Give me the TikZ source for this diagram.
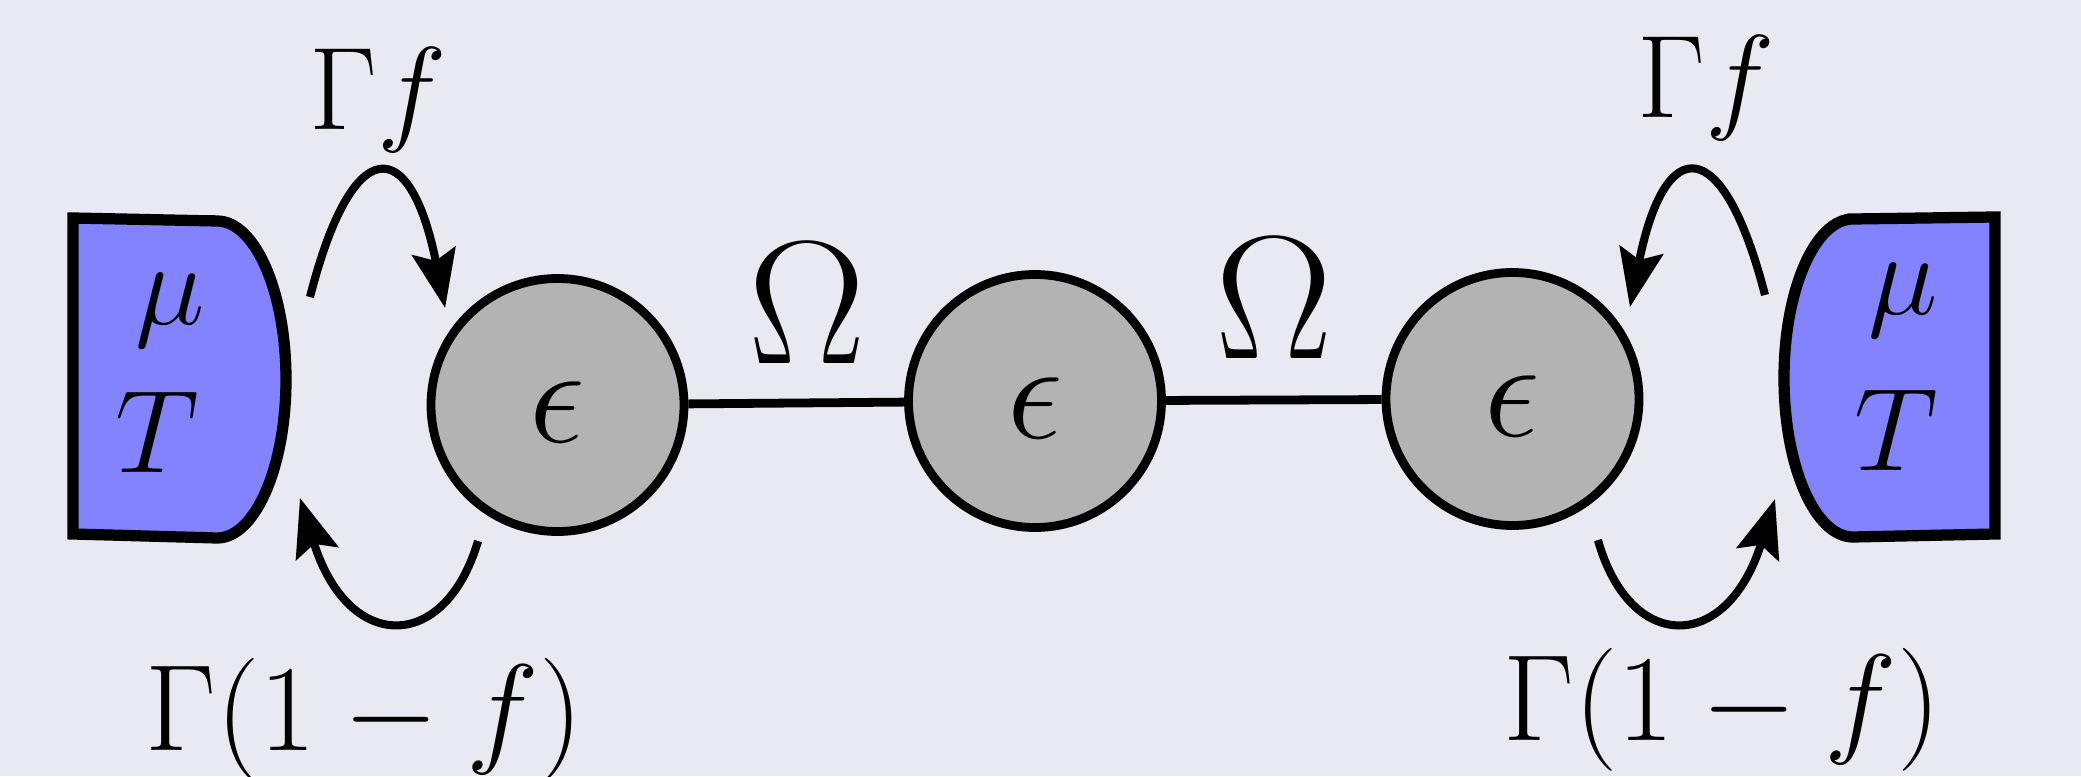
\RequirePackage{fix-cm}
\documentclass[tikz,border=0pt]{standalone}
\usetikzlibrary{arrows.meta,calc}
\definecolor{PaleLilac}{RGB}{233,233,242}
\definecolor{BathBlue}{RGB}{131,131,255}
\definecolor{SiteGray}{RGB}{179,179,179}
\tikzset{
  site/.style={circle,draw=black,fill=SiteGray,line width=2.5pt,
    minimum size=2.53cm,inner sep=0pt,text height=0.75cm,
    font=\fontsize{40}{48}\selectfont},
  lead/.style={draw=black,fill=BathBlue,line width=3.2pt,line join=miter},
  hop/.style={-{Stealth[length=5.8mm,width=4.4mm,inset=1mm]},line width=2.3pt},
  bond/.style={line width=2.5pt},
  rate/.style={anchor=base,font=\fontsize{33.5}{40}\selectfont},
  loss/.style={anchor=base,font=\fontsize{35}{42}\selectfont},
  coupling/.style={anchor=base,font=\fontsize{50}{60}\selectfont}
}

\begin{document}
\begin{tikzpicture}
  \useasboundingbox (0,0) rectangle (20.81,7.76);
  \fill[PaleLilac] (0,0) rectangle (20.81,7.76);
  \draw[lead] (2.17,5.55) -- (0.73,5.58) -- (0.73,2.42) -- (2.17,2.38)
    arc[start angle=-90,end angle=90,x radius=0.69,y radius=1.585] -- cycle;
  \draw[lead] (18.53,5.57) -- (19.95,5.59) -- (19.95,2.42) -- (18.53,2.39)
    arc[start angle=270,end angle=90,x radius=0.69,y radius=1.59] -- cycle;
  \node[rate] (muL) at (1.70,4.51) {$\mu$};
  \node[rate] (TL) at (1.57,3.04) {$T$};
  \node[rate] (muR) at (19.03,4.61) {$\mu$};
  \node[rate] (TR) at (18.96,3.06) {$T$};
  \node[site] (e1) at (5.575,3.71) {$\epsilon$};
  \node[site] (e2) at (10.35,3.75) {$\epsilon$};
  \node[site] (e3) at (15.125,3.77) {$\epsilon$};
  \draw[bond] (e1) -- (e2);
  \draw[bond] (e2) -- (e3);
  \node[coupling] (om1) at (8.075,4.13) {$\Omega$};
  \node[coupling] (om2) at (12.74,4.18) {$\Omega$};
  \coordinate (inL) at (3.10,4.79);
  \coordinate (outL) at (3.00,2.78);
  \coordinate (inR) at (17.65,4.81);
  \coordinate (outR) at (17.75,2.77);
  \draw[hop] (inL) .. controls +(0.42,1.65) and +(-0.35,1.76) .. ($(e1)+(139.2:1.485)$);
  \draw[hop] ($(e1)+(239.7:1.575)$) .. controls +(-0.33,-1.125) and +(0.48,-1.555) .. (outL);
  \draw[hop] (inR) .. controls +(-0.42,1.63) and +(0.35,1.75) .. ($(e3)+(38.06:1.492)$);
  \draw[hop] ($(e3)+(-58.8:1.649)$) .. controls +(0.32,-1.135) and +(-0.48,-1.545) .. (outR);
  \node[rate] (gfL) at (3.78,6.46) {$\Gamma f$};
  \node[rate] (gfR) at (17.06,6.58) {$\Gamma f$};
  \node[loss] (gbL) at (3.64,0.26) {$\Gamma(1-f)$};
  \node[loss] (gbR) at (17.22,0.36) {$\Gamma(1-f)$};
\end{tikzpicture}
\end{document}
